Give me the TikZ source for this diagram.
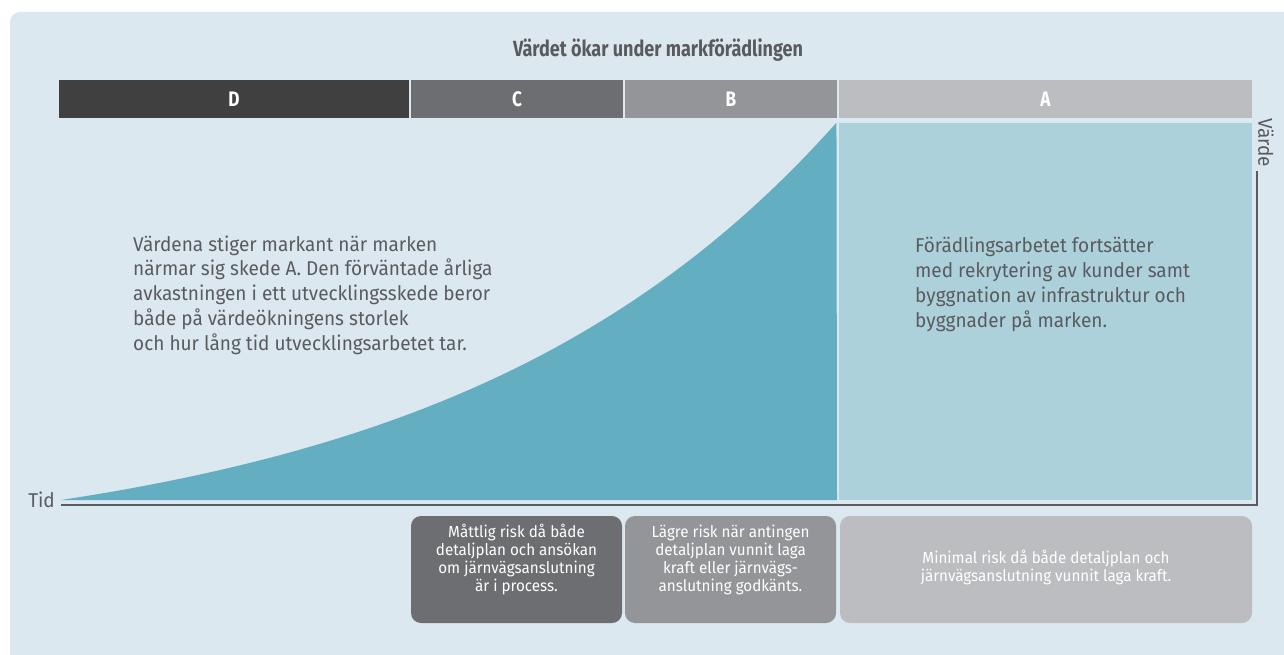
\documentclass[tikz,border=0pt]{standalone}
\usepackage{fontspec}
\usetikzlibrary{calc}
\setmainfont{Fira Sans}[FakeStretch=0.95]
\newfontfamily\barfont{Fira Sans}[FakeStretch=0.82]
\definecolor{panelbg}{HTML}{DCE8EF}
\definecolor{phaseD}{HTML}{404040}
\definecolor{phaseC}{HTML}{6D6E71}
\definecolor{phaseB}{HTML}{939598}
\definecolor{phaseA}{HTML}{BCBDC0}
\definecolor{valuefill}{HTML}{64AEC1}
\definecolor{valuelight}{HTML}{ADD1DB}
\definecolor{inkgray}{HTML}{5A5B5E}
\tikzset{bar/.style={fill=#1,text=white,minimum height=38pt,inner sep=0pt,font=\barfont\bfseries\fontsize{21}{21}\selectfont},bar/.default=phaseD}
\tikzset{riskbox/.style={fill=#1,rounded corners=10pt,minimum height=107pt,inner sep=0pt},riskbox/.default=phaseC}
\tikzset{risktext/.style={text=white,align=center,inner sep=0pt,font=\fontsize{16}{18}\selectfont}}
\tikzset{body/.style={text=inkgray,align=left,anchor=west,inner sep=0pt,font=\fontsize{20}{24.8}\selectfont}}
\tikzset{axisline/.style={color=#1,line width=2pt},axisline/.default=inkgray}

\begin{document}
\begin{tikzpicture}[x=1pt,y=-1pt]
		\useasboundingbox (0,0) rectangle (1284,655);
		\fill [panelbg, rounded corners=10pt] (10,12) rectangle (1300,670);

		\node [text=inkgray,font=\barfont\bfseries\fontsize{22}{22}\selectfont] (title) at (658,50) {Värdet ökar under markförädlingen};

		\node [bar=phaseD,minimum width=350pt] (D) at (234,99) {D};
		\node [bar=phaseC,minimum width=212pt] (C) at (517,99) {C};
		\node [bar=phaseB,minimum width=212pt] (B) at (731,99) {B};
		\node [bar=phaseA,minimum width=413pt] (A) at (1045.5,99) {A};

		% value curve and phase A area
		\fill [valuefill] plot [domain=0:1,samples=80] ({61+776*\x},{500-378*(exp(2*\x)-1)/6.389}) -- (837,500) -- cycle;
		\node [fill=valuelight,minimum width=413pt,minimum height=377pt,inner sep=0pt] (areaA) at (1045.5,311.5) {};

		% axes
		\coordinate (origin) at (61,505);
		\coordinate (corner) at (1257,505);
		\coordinate (top) at (1257,171);
		\draw [axisline] (origin) -- (corner) -- (top);
		\node [text=inkgray,font=\fontsize{20}{20}\selectfont,anchor=east,inner sep=0pt] (tid) at ($(origin)+(-6,-5)$) {Tid};
		\node [text=inkgray,font=\fontsize{20}{20}\selectfont,rotate=-90,anchor=east,inner sep=0pt] (varde) at ($(top)+(9,-4)$) {Värde};

		\node [body] (leftnote) at (133,295) {Värdena stiger markant när marken\\närmar sig skede A. Den förväntade årliga\\avkastningen i ett utvecklingsskede beror\\både på värdeökningens storlek\\och hur lång tid utvecklingsarbetet tar.};
		\node [body] (rightnote) at (915,284.5) {Förädlingsarbetet fortsätter\\med rekrytering av kunder samt\\byggnation av infrastruktur och\\byggnader på marken.};

		% risk boxes
		\node [riskbox=phaseC,minimum width=211pt] (riskC) at (516.5,569.5) {};
		\node [riskbox=phaseB,minimum width=211pt] (riskB) at (730.5,569.5) {};
		\node [riskbox=phaseA,minimum width=412pt] (riskA) at (1046,569.5) {};
		\node [risktext] at ($(riskC)+(0,-10)$) {Måttlig risk då både\\detaljplan och ansökan\\om järnvägsanslutning\\är i process.};
		\node [risktext] at ($(riskB)+(0,-10)$) {Lägre risk när antingen\\detaljplan vunnit laga\\kraft eller järnvägs-\\anslutning godkänts.};
		\node [risktext] at ($(riskA)+(0,-2)$) {Minimal risk då både detaljplan och\\järnvägsanslutning vunnit laga kraft.};
	\end{tikzpicture}
\end{document}
